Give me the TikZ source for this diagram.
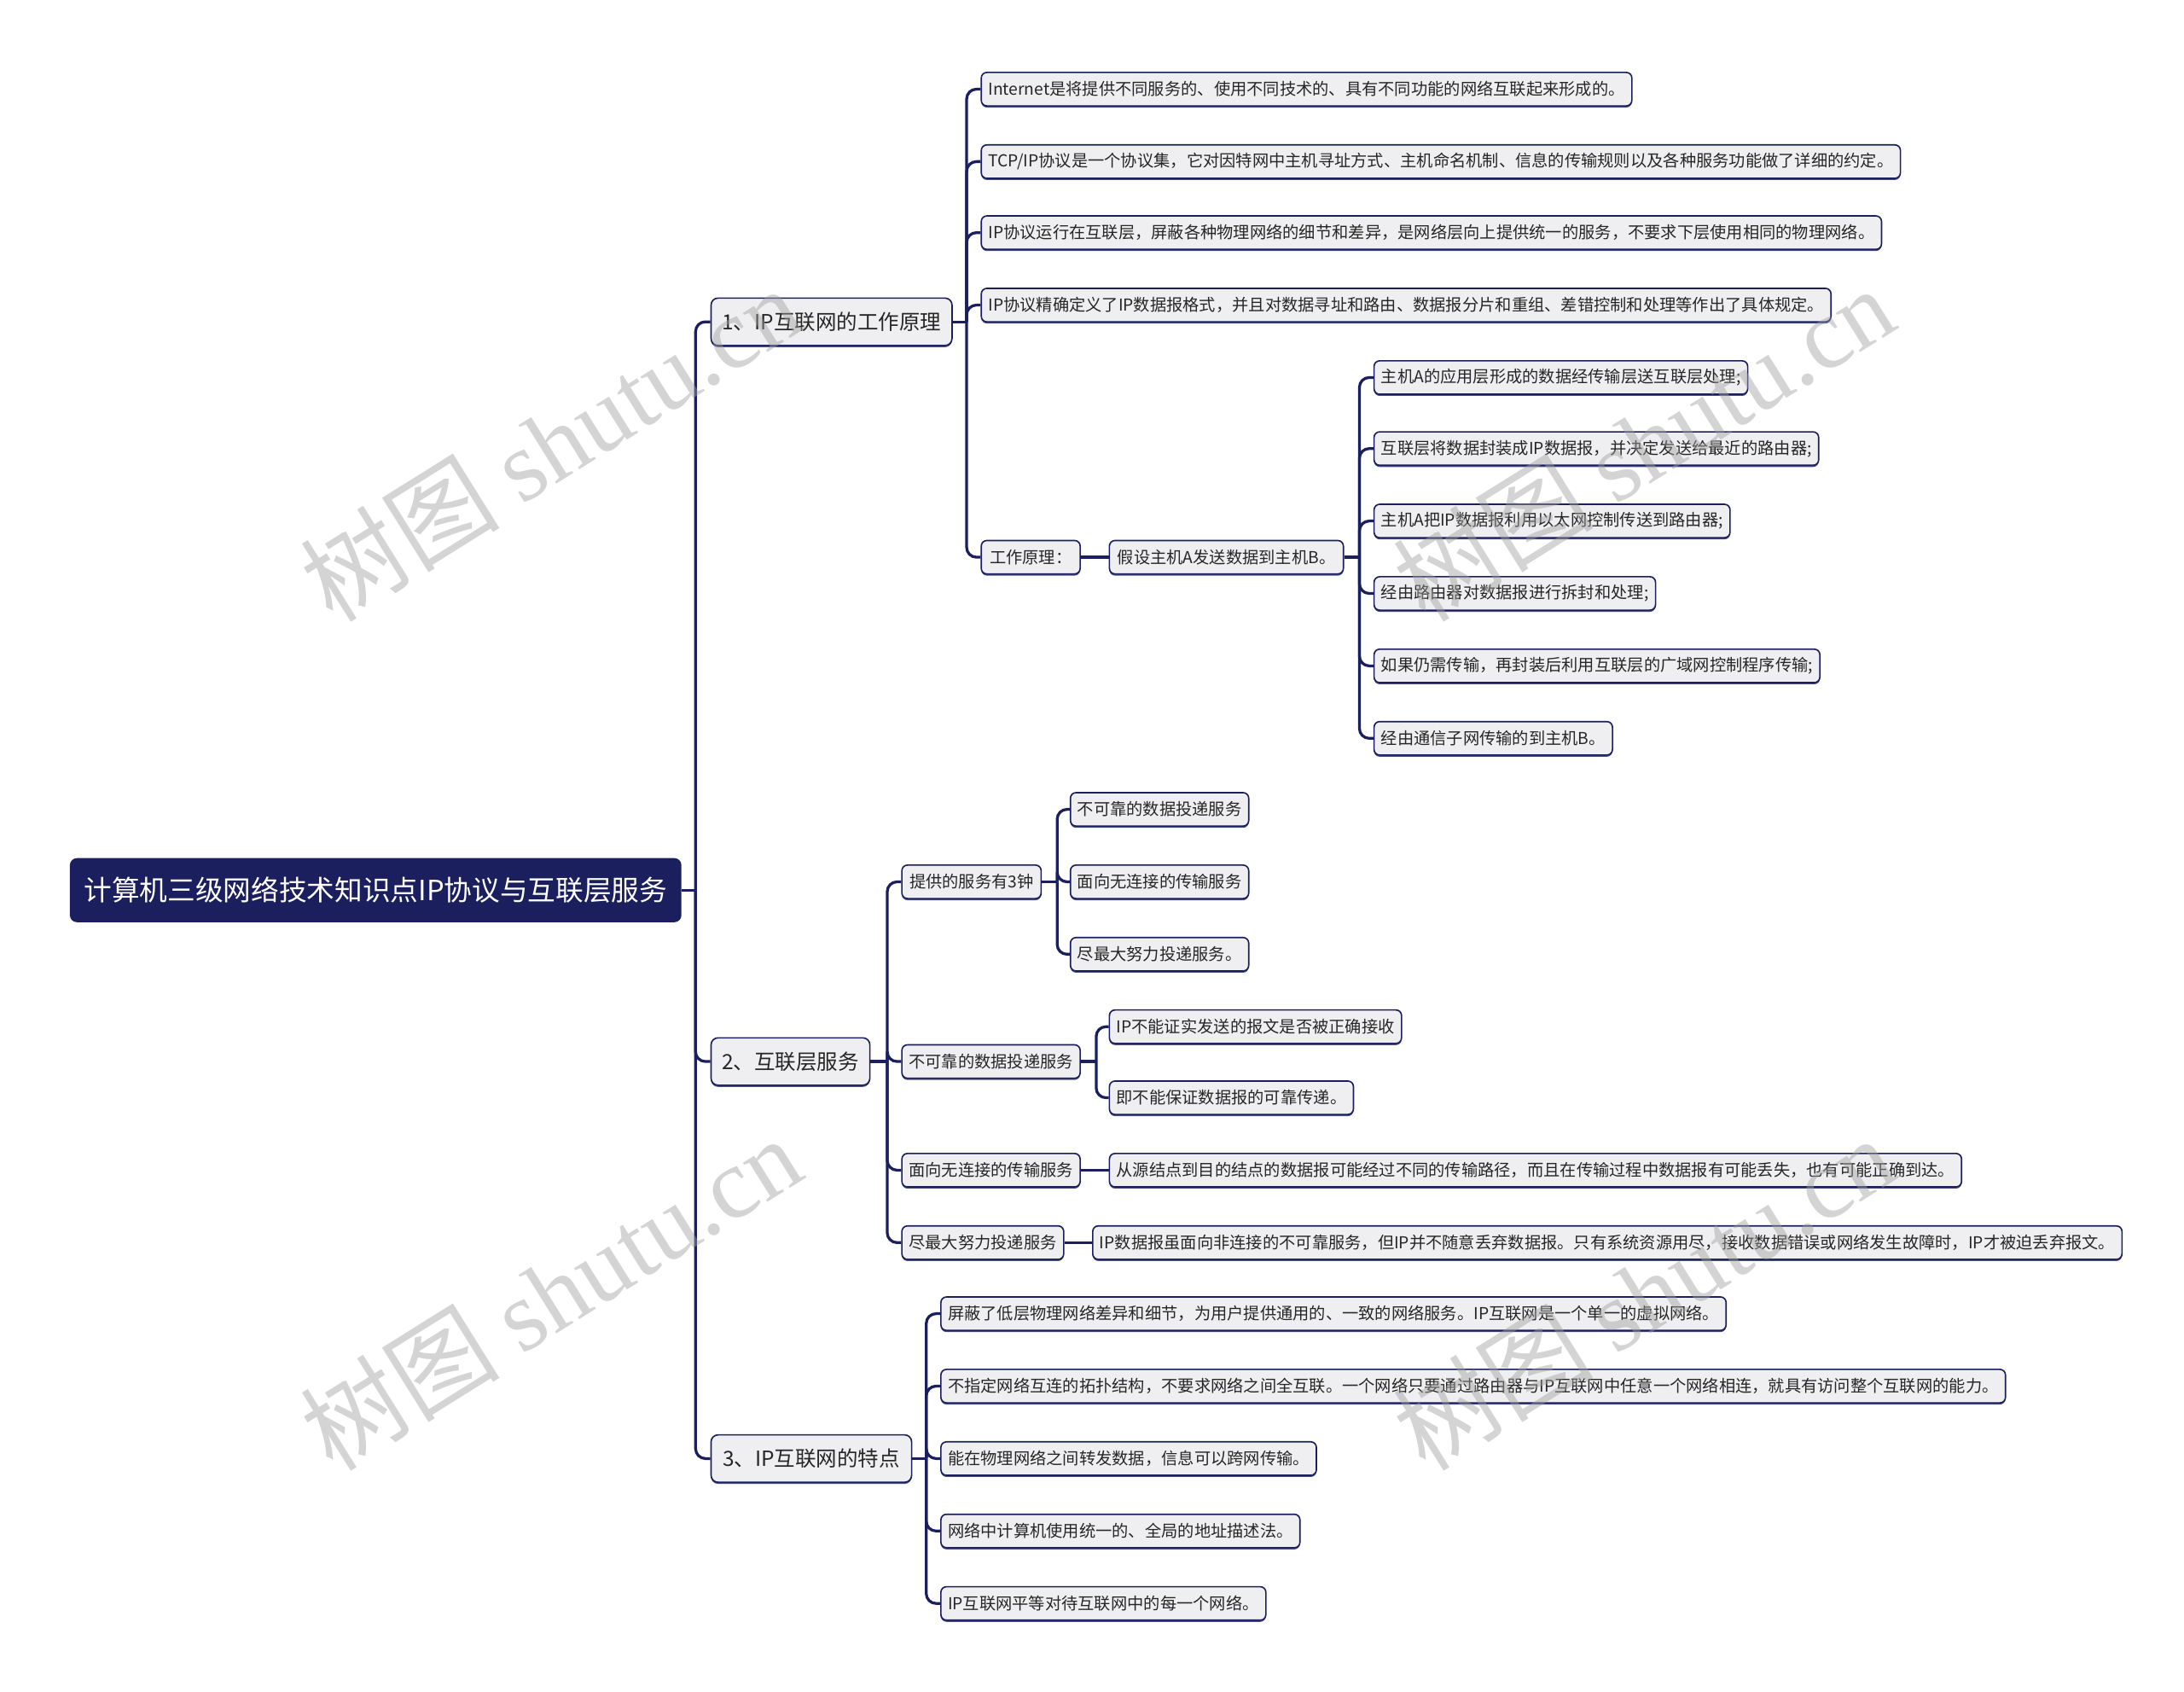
\documentclass[tikz,border=0pt]{standalone}
\usepackage{fontspec}
\setmainfont{Noto Sans CJK SC}
\newfontfamily\wmserif{Liberation Serif}
\newfontfamily\wmcjk{Noto Sans CJK SC}
\usetikzlibrary{shadows}
\definecolor{navy}{HTML}{1B1F5E}
\definecolor{nodefill}{HTML}{EFEFF1}
\definecolor{txt}{HTML}{262626}
\definecolor{wm}{HTML}{A0A0A0}
\begin{document}
\begin{tikzpicture}[x=1pt,y=-1pt,
  leaf/.style={draw=navy, fill=nodefill, rounded corners=4pt, line width=1pt,
    minimum height=24pt, inner xsep=5pt, inner ysep=0pt, anchor=west, text=txt,
    font=\fontsize{11.8}{13}\selectfont,
    drop shadow={shadow xshift=0pt, shadow yshift=-1.2pt, opacity=0.8, fill=navy}},
  lvl/.style={leaf, minimum height=34pt, rounded corners=5pt, font=\fontsize{15}{18}\selectfont},
  rootn/.style={fill=navy, text=white, rounded corners=5pt, minimum height=46pt,
    inner xsep=8pt, anchor=west, font=\fontsize{20}{24}\selectfont},
  conn/.style={draw=navy, line width=2pt, rounded corners=7pt},
  wmark/.style={text=wm, opacity=0.45, rotate=32, font=\fontsize{72}{76}\selectfont}
]
\fill[white] (0,0) rectangle (1568,1214);
\useasboundingbox (0,0) rectangle (1568,1214);

% root and level 1
\node[rootn, minimum width=439pt] (root) at (50,639) {计算机三级网络技术知识点IP协议与互联层服务};
\node[lvl, minimum width=173pt] (A) at (510,231) {1、IP互联网的工作原理};
\node[lvl, minimum width=114pt] (B) at (510,762) {2、互联层服务};
\node[lvl, minimum width=144pt] (C) at (510,1047) {3、IP互联网的特点};

% branch A
\node[leaf, minimum width=465pt] (a1) at (704,64) {Internet是将提供不同服务的、使用不同技术的、具有不同功能的网络互联起来形成的。};
\node[leaf, minimum width=657pt] (a2) at (704,116) {TCP/IP协议是一个协议集，它对因特网中主机寻址方式、主机命名机制、信息的传输规则以及各种服务功能做了详细的约定。};
\node[leaf, minimum width=642pt] (a3) at (704,167) {IP协议运行在互联层，屏蔽各种物理网络的细节和差异，是网络层向上提供统一的服务，不要求下层使用相同的物理网络。};
\node[leaf, minimum width=605pt] (a4) at (704,219) {IP协议精确定义了IP数据报格式，并且对数据寻址和路由、数据报分片和重组、差错控制和处理等作出了具体规定。};
\node[leaf, minimum width=71pt] (a5) at (704,400) {工作原理：};
\node[leaf, minimum width=168pt] (a6) at (796,400) {假设主机A发送数据到主机B。};
\node[leaf, minimum width=267pt] (b1) at (986,271) {主机A的应用层形成的数据经传输层送互联层处理;};
\node[leaf, minimum width=317pt] (b2) at (986,322) {互联层将数据封装成IP数据报，并决定发送给最近的路由器;};
\node[leaf, minimum width=254pt] (b3) at (986,374) {主机A把IP数据报利用以太网控制传送到路由器;};
\node[leaf, minimum width=201pt] (b4) at (986,426) {经由路由器对数据报进行拆封和处理;};
\node[leaf, minimum width=318pt] (b5) at (986,478) {如果仍需传输，再封装后利用互联层的广域网控制程序传输;};
\node[leaf, minimum width=170pt] (b6) at (986,530) {经由通信子网传输的到主机B。};

% branch B
\node[leaf, minimum width=100pt] (c1) at (647,633) {提供的服务有3钟};
\node[leaf, minimum width=128pt] (c1a) at (768,581) {不可靠的数据投递服务};
\node[leaf, minimum width=128pt] (c1b) at (768,633) {面向无连接的传输服务};
\node[leaf, minimum width=128pt] (c1c) at (768,685) {尽最大努力投递服务。};
\node[leaf, minimum width=128pt] (c2) at (647,762) {不可靠的数据投递服务};
\node[leaf, minimum width=209pt] (c2a) at (796,737) {IP不能证实发送的报文是否被正确接收};
\node[leaf, minimum width=175pt] (c2b) at (796,788) {即不能保证数据报的可靠传递。};
\node[leaf, minimum width=128pt] (c3) at (647,840) {面向无连接的传输服务};
\node[leaf, minimum width=608pt] (c3a) at (796,840) {从源结点到目的结点的数据报可能经过不同的传输路径，而且在传输过程中数据报有可能丢失，也有可能正确到达。};
\node[leaf, minimum width=116pt] (c4) at (647,892) {尽最大努力投递服务};
\node[leaf, minimum width=734pt] (c4a) at (784,892) {IP数据报虽面向非连接的不可靠服务，但IP并不随意丢弃数据报。只有系统资源用尽，接收数据错误或网络发生故障时，IP才被迫丢弃报文。};

% branch C
\node[leaf, minimum width=560pt] (d1) at (675,943) {屏蔽了低层物理网络差异和细节，为用户提供通用的、一致的网络服务。IP互联网是一个单一的虚拟网络。};
\node[leaf, minimum width=758pt] (d2) at (675,995) {不指定网络互连的拓扑结构，不要求网络之间全互联。一个网络只要通过路由器与IP互联网中任意一个网络相连，就具有访问整个互联网的能力。};
\node[leaf, minimum width=268pt] (d3) at (675,1047) {能在物理网络之间转发数据，信息可以跨网传输。};
\node[leaf, minimum width=256pt] (d4) at (675,1099) {网络中计算机使用统一的、全局的地址描述法。};
\node[leaf, minimum width=232pt] (d5) at (675,1151) {IP互联网平等对待互联网中的每一个网络。};

% connectors
\draw[conn] (root.east) -- ++(10,0) coordinate (j0);
\foreach \c in {A,B,C} \draw[conn] (j0) |- (\c.west);

\draw[conn] (A.east) -- ++(10,0) coordinate (jA);
\foreach \c in {a1,a2,a3,a4,a5} \draw[conn] (jA) |- (\c.west);
\draw[conn] (a5.east) -- (a6.west);
\draw[conn] (a6.east) -- ++(11,0) coordinate (jA6);
\foreach \c in {b1,b2,b3,b4,b5,b6} \draw[conn] (jA6) |- (\c.west);

\draw[conn] (B.east) -- ++(12,0) coordinate (jB);
\foreach \c in {c1,c2,c3,c4} \draw[conn] (jB) |- (\c.west);
\draw[conn] (c1.east) -- ++(11,0) coordinate (jC1);
\foreach \c in {c1a,c1b,c1c} \draw[conn] (jC1) |- (\c.west);
\draw[conn] (c2.east) -- ++(11,0) coordinate (jC2);
\foreach \c in {c2a,c2b} \draw[conn] (jC2) |- (\c.west);
\draw[conn] (c3.east) -- (c3a.west);
\draw[conn] (c4.east) -- (c4a.west);

\draw[conn] (C.east) -- ++(10,0) coordinate (jC);
\foreach \c in {d1,d2,d3,d4,d5} \draw[conn] (jC) |- (\c.west);

% watermarks
\node[wmark] (wm1) at (395,318) {{\wmcjk 树图} {\wmserif shutu.cn}};
\node[wmark] (wm2) at (395,928) {{\wmcjk 树图} {\wmserif shutu.cn}};
\node[wmark] (wm3) at (1180,318) {{\wmcjk 树图} {\wmserif shutu.cn}};
\node[wmark] (wm4) at (1180,928) {{\wmcjk 树图} {\wmserif shutu.cn}};
\end{tikzpicture}
\end{document}
